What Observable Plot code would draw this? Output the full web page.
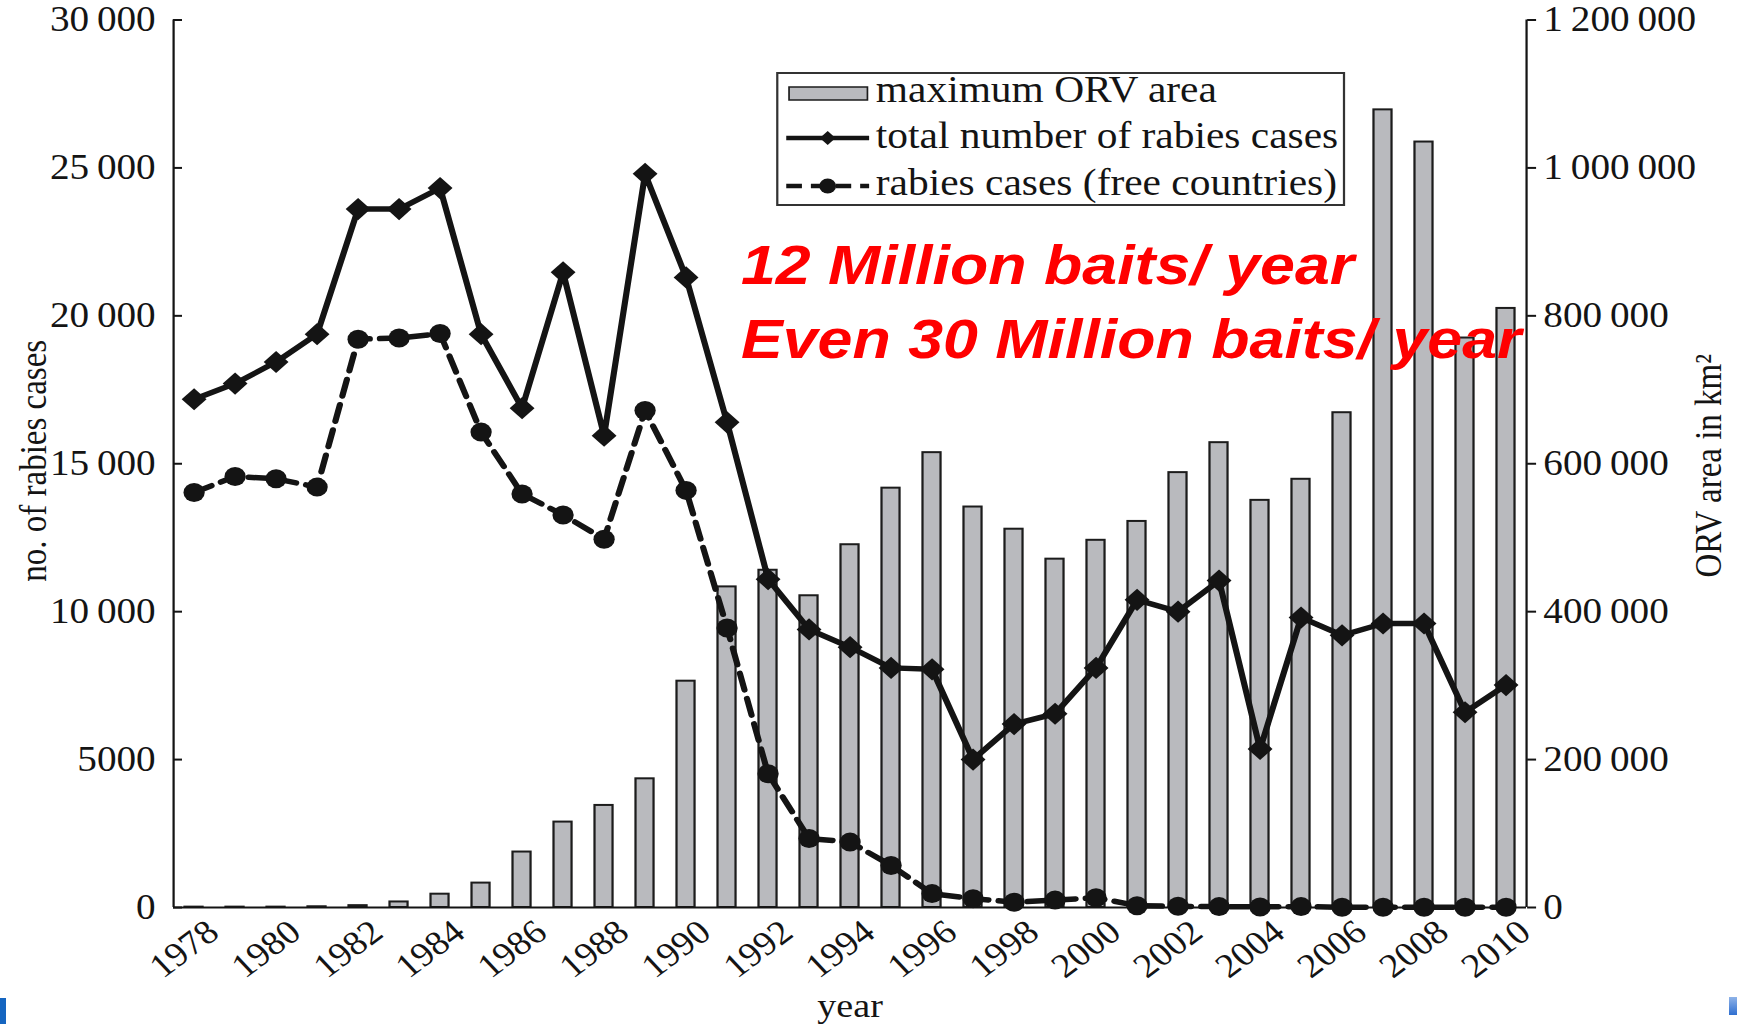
<!DOCTYPE html>
<html>
<head>
<meta charset="utf-8">
<script src="https://cdn.jsdelivr.net/npm/d3@7"></script>
<script src="https://cdn.jsdelivr.net/npm/@observablehq/plot@0.6"></script>
<style>
  html, body { margin: 0; padding: 0; background: #fff; overflow: hidden; }
  #chart { position: absolute; left: 0; top: 0; width: 1737px; height: 1024px; overflow: hidden; }
  #chart svg { transform: scaleX(1.12); transform-origin: 0 0; display: block; }
  .artifact { position: absolute; }
</style>
</head>
<body>
<div id="chart"></div>
<div class="artifact" style="left:0;top:998px;width:6px;height:26px;background:#1565c0"></div>
<div class="artifact" style="left:1729px;top:997px;width:8px;height:18px;background:linear-gradient(#8fb3e8,#2f6fd0)"></div>
<script>
// ---------------- data ----------------
const years = [1978, 1979, 1980, 1981, 1982, 1983, 1984, 1985, 1986, 1987, 1988,
               1989, 1990, 1991, 1992, 1993, 1994, 1995, 1996, 1997, 1998, 1999,
               2000, 2001, 2002, 2003, 2004, 2005, 2006, 2007, 2008, 2009, 2010];

// maximum ORV area (km²) – right axis
const orvArea = [500, 500, 500, 1000, 2500, 7500, 18000, 33000, 75000, 115500, 138000,
                 174000, 306000, 433500, 456000, 421500, 490500, 567000, 615000, 541500, 511500, 471000,
                 496500, 522000, 588000, 628500, 550500, 579000, 669000, 1078500, 1035000, 770000, 810000];

// total number of rabies cases – left axis
const totalCases = [17180, 17710, 18440, 19380, 23610, 23610, 24320, 19380, 16880, 21470, 15950,
                    24800, 21300, 16400, 11100, 9400, 8800, 8100, 8050, 5000, 6200, 6550,
                    8100, 10400, 10000, 11050, 5360, 9800, 9200, 9600, 9600, 6600, 7520];

// rabies cases (free countries) – left axis
const freeCases = [14030, 14570, 14490, 14210, 19210, 19250, 19400, 16070, 13980, 13270, 12450,
                   16800, 14100, 9450, 4520, 2330, 2210, 1420, 470, 300, 180, 250,
                   330, 60, 40, 30, 20, 30, 10, 10, 10, 10, 10];

const xTickLabels = [1978, 1980, 1982, 1984, 1986, 1988, 1990, 1992, 1994, 1996, 1998,
                     2000, 2002, 2004, 2006, 2008, 2010];
const leftTicks = [0, 5000, 10000, 15000, 20000, 25000, 30000];
const rightTicks = [0, 200000, 400000, 600000, 800000, 1000000, 1200000];
const axisRatio = 40; // 1 200 000 km² on the right axis ↔ 30 000 cases on the left axis

const legendLabels = ["maximum ORV area", "total number of rabies cases", "rabies cases (free countries)"];
const annotationLines = ["12 Million baits/ year", "Even 30 Million baits/ year"];
const leftTitle = "no. of rabies cases";
const rightTitle = "ORV area in km²";
const xTitle = "year";

// ---------------- chart ----------------
const rows = years.map((year, i) => ({year, area: orvArea[i], total: totalCases[i], free: freeCases[i]}));

const S = 1.12;                 // horizontal stretch of the reference picture
const W = Math.round(1737 / S); // svg width before stretch
const mLeft = 154.5, xRight = 1362.5, mTop = 19.5, yBottom = 907;
const barHalf = 0.22;
const serif = "'Liberation Serif', 'Times New Roman', serif";
const ink = "#141414";
const group = v => v < 10000 ? String(v) : String(v).replace(/\B(?=(\d{3})+(?!\d))/g, "\u2009");

const svg = Plot.plot({
  width: W,
  height: 1024,
  marginLeft: mLeft,
  marginRight: W - xRight,
  marginTop: mTop,
  marginBottom: 1024 - yBottom,
  x: {domain: [1977.5, 2010.5], axis: null},
  y: {domain: [0, 30000], axis: null},
  style: {fontFamily: serif, fontSize: "33px", color: ink, background: "#fff", overflow: "visible"},
  marks: [
    Plot.rect(rows, {
      x1: d => d.year - barHalf, x2: d => d.year + barHalf,
      y1: 0, y2: d => d.area / axisRatio,
      fill: "#b9babe", stroke: "#1c1c1c", strokeWidth: 2
    }),
    Plot.ruleY([0], {stroke: ink, strokeWidth: 2}),
    Plot.ruleX([1977.5, 2010.5], {stroke: ink, strokeWidth: 2}),
    Plot.axisY(leftTicks, {anchor: "left", tickSize: -8, tickPadding: 24, strokeWidth: 2,
      tickFormat: group, fontSize: 35, label: null}),
    Plot.axisY(rightTicks.map(v => v / axisRatio), {anchor: "right", tickSize: 8, tickPadding: 7, strokeWidth: 2,
      tickFormat: d => group(Math.round(d * axisRatio)), fontSize: 35, label: null}),
    Plot.text(xTickLabels, {x: d => d, frameAnchor: "bottom", text: d => String(d), rotate: -40,
      textAnchor: "end", lineAnchor: "bottom", dx: 24, dy: 28, fontSize: 34, fill: ink}),
    Plot.line(rows, {x: "year", y: "free", stroke: ink, strokeWidth: 5.5, strokeDasharray: "17,9"}),
    Plot.dot(rows, {x: "year", y: "free", r: 9.5, fill: ink, stroke: null}),
    Plot.line(rows, {x: "year", y: "total", stroke: ink, strokeWidth: 5.5}),
    Plot.dot(rows, {x: "year", y: "total", symbol: "diamond2", r: 10, fill: ink, stroke: null}),
    Plot.text([leftTitle], {frameAnchor: "left", rotate: -90, textAnchor: "middle", lineAnchor: "bottom",
      dx: 41 - mLeft, dy: -3, fontSize: 33, fill: ink}),
    Plot.text([rightTitle], {frameAnchor: "right", rotate: -90, textAnchor: "middle", lineAnchor: "bottom",
      dx: 1536 - xRight, dy: 2, fontSize: 33, fill: ink}),
    Plot.text([xTitle], {frameAnchor: "bottom", lineAnchor: "bottom", dy: 109, fontSize: 34, fill: ink}),
    Plot.text([annotationLines.join("\n")], {frameAnchor: "top-left", textAnchor: "start", lineAnchor: "bottom",
      lineHeight: 1.32, dx: 661 - mLeft, dy: 357 - mTop, fontSize: 56,
      fontFamily: "'Liberation Sans', Arial, sans-serif", fontWeight: "bold", fontStyle: "italic", fill: "#ff0000"})
  ]
});

// ---------------- legend ----------------
const lg = d3.select(svg).append("g").attr("font-family", serif).attr("font-size", 37)
  .attr("fill", ink).attr("text-anchor", "start");
lg.append("rect").attr("x", 694).attr("y", 73).attr("width", 506).attr("height", 132)
  .attr("fill", "#fff").attr("stroke", "#333").attr("stroke-width", 2);
const baselines = [102, 148, 195];
// swatch: bars
lg.append("rect").attr("x", 704.5).attr("y", 87).attr("width", 70).attr("height", 13)
  .attr("fill", "#b9babe").attr("stroke", "#1c1c1c").attr("stroke-width", 1.5);
// swatch: total line with diamond
lg.append("line").attr("x1", 702).attr("x2", 776).attr("y1", 138).attr("y2", 138)
  .attr("stroke", ink).attr("stroke-width", 4.5);
lg.append("path").attr("d", "M739,131L746,138L739,145L732,138Z").attr("fill", ink);
// swatch: free countries dashed with circle
lg.append("line").attr("x1", 702).attr("x2", 776).attr("y1", 186).attr("y2", 186)
  .attr("stroke", ink).attr("stroke-width", 4.5).attr("stroke-dasharray", "14,8");
lg.append("circle").attr("cx", 739).attr("cy", 186).attr("r", 7.5).attr("fill", ink);
legendLabels.forEach((t, i) => {
  lg.append("text").attr("x", 782).attr("y", baselines[i]).text(t);
});

document.getElementById("chart").appendChild(svg);
</script>
</body>
</html>
